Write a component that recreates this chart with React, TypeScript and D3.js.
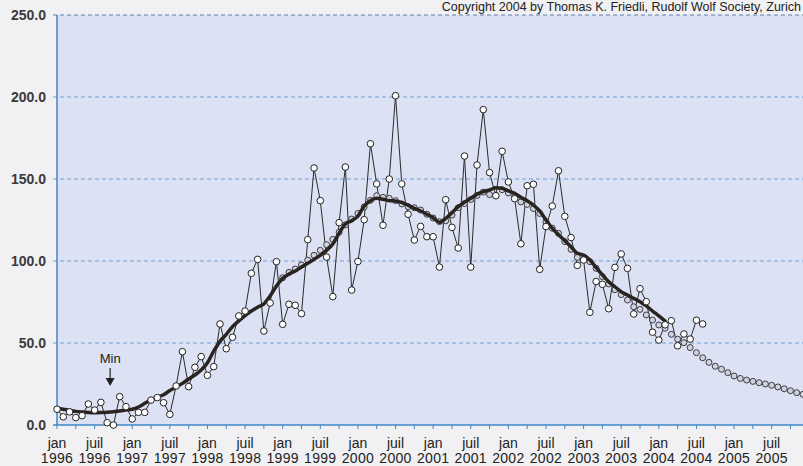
import React from "react";
import * as d3 from "d3";

// Monthly sunspot numbers, Jan 1996 .. Aug 2004
const rawValues: number[] = [
  9.6, 5, 8, 4.5, 5.7, 12.8, 9.1, 13.8, 1.4, 0, 17.3, 11.2,
  3.7, 7.7, 7.7, 15.2, 16.7, 13.6, 6.5, 23.8, 44.7, 23.4, 35.2, 41.7,
  30.3, 35.6, 61.6, 46.5, 53.5, 66.5, 69.5, 92.5, 101, 57.3, 74.4, 99.6,
  61.4, 73.6, 73, 67.9, 113, 156.7, 136.8, 102.4, 78.3, 123.4, 157.3, 82.3,
  99.7, 125.2, 171.5, 147, 121.8, 150, 200.8, 147, 128.5, 112.8, 121.1, 114.8,
  114.8, 96.3, 137.4, 120.5, 107.9, 164, 96.3, 158.5, 192.3, 153.9, 139.8, 166.9,
  148.2, 138, 110.5, 145.9, 146.8, 94.9, 121, 133.5, 155, 127.2, 114.3, 97.3,
  100.6, 68.7, 87.5, 85.8, 70.9, 96.1, 104.3, 95.5, 67.7, 83.1, 75.2, 56.6,
  51.8, 61.1, 63.6, 48.3, 55.5, 52.4, 63.9, 61.6,
];

// Smoothed monthly values, Jan 1996 .. Feb 2004
const smoothedValues: number[] = [
  10.2, 9.6, 9.0, 8.3, 7.9, 7.6, 7.5, 7.6, 7.8, 8.1, 8.6, 9.1,
  9.6, 11.0, 13.2, 15.5, 17.0, 18.4, 21.0, 23.0, 25.4, 28.0, 30.5, 33.5,
  38.0, 45.0, 51.0, 55.3, 60.0, 63.5, 66.7, 69.5, 71.8, 73.8, 78.7, 84.8,
  89.4, 92.0, 93.9, 96.3, 98.6, 101.0, 103.5, 106.5, 110.4, 117.0, 122.6, 124.6,
  127.4, 133.5, 136.8, 138.2, 137.6, 136.8, 136.6, 135.6, 134.1, 132.1, 130.5, 128.5,
  126.4, 123.6, 126.0, 129.5, 133.1, 135.8, 138.2, 140.7, 142.3, 143.3, 144.7, 144.3,
  142.7, 141.3, 138.8, 136.8, 134.1, 130.5, 125.0, 120.0, 116.0, 112.4, 108.7, 104.7,
  103.7, 100.6, 96.1, 91.5, 87.4, 84.3, 81.3, 79.3, 77.2, 75.2, 72.6, 69.5,
  66.5, 63.4,
];

// Predicted smoothed values, Jan 1999 .. Dec 2005
const predictStart = 36;
const predictedValues: number[] = [
  89.8, 93.1, 95.1, 97.6, 100.5, 103.5, 106.5, 110, 113.2, 117.5, 122, 125.6,
  129, 133, 137, 139.8, 138.8, 138.2, 136.8, 134.8, 133.1, 132.5, 131.1, 128.5,
  126.2, 124, 124.5, 128, 132.5, 135, 137.5, 140, 142, 140.5, 140, 143.5,
  141.5, 139.5, 136, 134.5, 132, 129, 124, 120, 116.9, 111.8, 107.1, 102.2,
  101.2, 99.6, 95.5, 90.5, 86, 82.5, 79.5, 76.2, 72.1, 70.5, 67.1, 64,
  61, 59, 55.3, 52.3, 50.2, 47.2, 44.1, 41, 38.2, 35.8, 34, 31.9,
  29.9, 28.4, 27.4, 26.6, 25.8, 25, 24.2, 23.2, 22.1, 20.9, 19.7, 18.7,
];

const monthNames: string[] = ["jan", "juil"];
const years: number[] = [1996, 1997, 1998, 1999, 2000, 2001, 2002, 2003, 2004, 2005];
const yTicks: number[] = [0, 50, 100, 150, 200, 250];
const copyright = "Copyright 2004 by Thomas K. Friedli, Rudolf Wolf Society, Zurich";
const minLabel = "Min";
const minMonth = 8;

const W = 803;
const H = 466;
const FONT = "'Liberation Sans', Arial, Helvetica, sans-serif";

export default function App() {
  const x = d3.scaleLinear().domain([0, 119]).range([57, 803]);
  const y = d3.scaleLinear().domain([0, 250]).range([425, 15]);

  const rawPts = rawValues.map((v, i) => [x(i), y(v)] as [number, number]);
  const smPts = smoothedValues.map((v, i) => [x(i), y(v)] as [number, number]);
  const predPts = predictedValues.map((v, i) => [x(i + predictStart), y(v)] as [number, number]);

  const rawLine = d3.line().curve(d3.curveLinear)(rawPts) || "";
  const smLine = d3.line().curve(d3.curveMonotoneX)(smPts) || "";

  const quarterTicks = d3.range(0, 120, 3);
  const labels: { m: number; name: string; year: number }[] = [];
  years.forEach((yr, yi) => {
    monthNames.forEach((nm, ni) => {
      labels.push({ m: yi * 12 + ni * 6, name: nm, year: yr });
    });
  });

  const axisBlue = "#3f86c4";
  const gridBlue = "#6e9fcf";

  return (
    <svg
      width={W}
      height={H}
      style={{ position: "absolute", left: 0, top: 0, background: "#f1f1f3" }}
    >
      <rect x={0} y={0} width={W} height={H} fill="#f1f1f3" />
      <rect x={x(0)} y={y(250)} width={W - x(0)} height={y(0) - y(250)} fill="#dce1f4" />

      {/* gridlines */}
      {yTicks.filter((t) => t > 0).map((t) => (
        <line
          key={"g" + t}
          x1={x(0) - 4}
          x2={W}
          y1={y(t)}
          y2={y(t)}
          stroke={t === 250 ? "#5a7fa8" : gridBlue}
          strokeWidth={1}
          strokeDasharray="4,3"
        />
      ))}

      {/* y axis */}
      <line x1={x(0)} x2={x(0)} y1={y(250)} y2={y(0)} stroke={axisBlue} strokeWidth={1.5} />
      {yTicks.map((t) => (
        <text
          key={"yl" + t}
          x={46}
          y={y(t)}
          dy="0.35em"
          textAnchor="end"
          fontFamily={FONT}
          fontSize={14}
          fontWeight="bold"
          fill="#3a3a3a"
        >
          {t.toFixed(1)}
        </text>
      ))}

      {/* x axis */}
      <line x1={x(0) - 4} x2={W} y1={y(0)} y2={y(0)} stroke={axisBlue} strokeWidth={1.5} />
      {quarterTicks.map((m) => (
        <line key={"xt" + m} x1={x(m)} x2={x(m)} y1={y(0)} y2={y(0) + 4} stroke={axisBlue} strokeWidth={1} />
      ))}
      {labels.map((l) => (
        <g key={"xl" + l.m}>
          <text
            x={x(l.m)}
            y={448}
            textAnchor="middle"
            fontFamily={FONT}
            fontSize={14}
            fill="#222"
          >
            {l.name}
          </text>
          <text
            x={x(l.m)}
            y={463}
            textAnchor="middle"
            fontFamily={FONT}
            fontSize={14}
            fill="#222"
            letterSpacing={0.3}
          >
            {l.year}
          </text>
        </g>
      ))}

      {/* raw monthly line */}
      <path d={rawLine} fill="none" stroke="#2b2b2b" strokeWidth={1} />

      {/* predicted circles */}
      {predPts.map((p, i) => (
        <circle key={"p" + i} cx={p[0]} cy={p[1]} r={3} fill="#cfd1dc" stroke="#3c3c44" strokeWidth={1} />
      ))}

      {/* smoothed line */}
      <path d={smLine} fill="none" stroke="#2a2420" strokeWidth={3.5} strokeLinejoin="round" strokeLinecap="round" />

      {/* raw circles */}
      {rawPts.map((p, i) => (
        <circle key={"r" + i} cx={p[0]} cy={p[1]} r={3.3} fill="#ffffff" stroke="#222" strokeWidth={1} />
      ))}

      {/* Min marker */}
      <text x={x(minMonth) + 3} y={363} textAnchor="middle" fontFamily={FONT} fontSize={13} fill="#222">
        {minLabel}
      </text>
      <line x1={x(minMonth) + 3} x2={x(minMonth) + 3} y1={368} y2={380} stroke="#222" strokeWidth={1.2} />
      <path
        d={`M${x(minMonth) + 3 - 4.5},378 L${x(minMonth) + 3 + 4.5},378 L${x(minMonth) + 3},386 Z`}
        fill="#222"
      />

      {/* copyright */}
      <text x={801} y={11} textAnchor="end" fontFamily={FONT} fontSize={12.5} fill="#222">
        {copyright}
      </text>
    </svg>
  );
}
